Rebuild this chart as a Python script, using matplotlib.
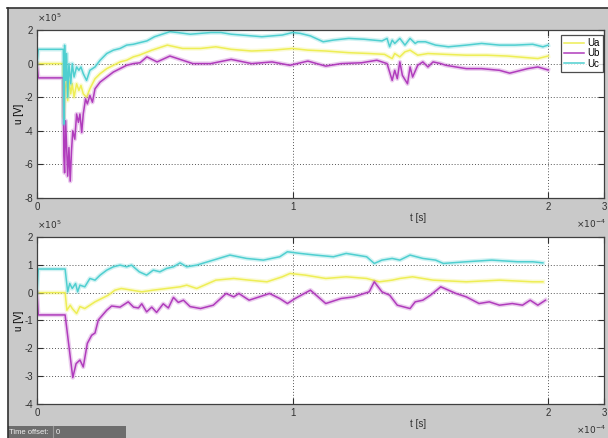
import numpy as np
import matplotlib
matplotlib.use('Agg')
import matplotlib.pyplot as plt
from matplotlib.patches import Rectangle
from matplotlib.lines import Line2D

plt.rcParams['font.family'] = ['Liberation Sans', 'DejaVu Sans']

# time in 1e-4 s, voltage in 1e5 V, (t, u) pairs
ua_top = [(0, 0), (0.005, 0), (0.103, 0), (0.105, -3.2), (0.110, -1.5), (0.116, -1.0), (0.120, -2.2),
          (0.125, -1.0), (0.132, -1.8), (0.138, -1.2), (0.145, -2.0), (0.155, -1.2), (0.164, -1.6),
          (0.172, -1.3), (0.181, -1.8), (0.194, -2.0), (0.207, -1.5), (0.227, -0.9), (0.247, -0.6),
          (0.273, -0.3), (0.299, -0.1), (0.325, 0.1), (0.351, 0.2), (0.377, 0.4), (0.40, 0.5),
          (0.45, 0.8), (0.51, 1.1), (0.57, 0.9), (0.64, 0.9), (0.70, 1.0), (0.76, 0.85), (0.84, 0.75),
          (0.92, 0.8), (1.00, 0.9), (1.06, 0.8), (1.13, 0.75), (1.22, 0.65), (1.30, 0.6), (1.36, 0.55),
          (1.39, 0.3), (1.40, 0.6), (1.42, 0.4), (1.44, 0.7), (1.46, 0.8), (1.49, 0.5), (1.53, 0.6),
          (1.60, 0.55), (1.68, 0.5), (1.76, 0.5), (1.84, 0.45), (1.92, 0.35), (1.96, 0.3), (2.00, 0.45)]

ub_top = [(0, 0), (0.005, -0.85), (0.103, -0.85), (0.105, -5.5), (0.108, -6.5), (0.112, -3.4),
          (0.116, -5.0), (0.120, -6.7), (0.125, -5.0), (0.130, -7.0), (0.135, -5.2), (0.140, -4.0),
          (0.148, -4.5), (0.155, -3.0), (0.162, -3.5), (0.168, -3.0), (0.175, -4.1), (0.181, -3.0),
          (0.190, -2.1), (0.197, -2.4), (0.207, -1.9), (0.217, -2.3), (0.227, -1.5), (0.247, -1.1),
          (0.273, -0.8), (0.299, -0.5), (0.325, -0.3), (0.351, -0.1), (0.377, 0.0), (0.403, 0.05),
          (0.43, 0.4), (0.47, 0.1), (0.52, 0.45), (0.57, 0.2), (0.61, 0.0), (0.68, 0.0), (0.76, 0.25),
          (0.84, 0.0), (0.92, 0.1), (0.99, -0.1), (1.06, 0.15), (1.13, -0.15), (1.19, 0.0), (1.27, 0.05),
          (1.33, 0.2), (1.37, 0.0), (1.39, -1.0), (1.40, -0.4), (1.41, -0.9), (1.42, 0.1), (1.43, -0.7),
          (1.45, -1.2), (1.46, -0.2), (1.47, -0.8), (1.49, -0.1), (1.51, 0.1), (1.53, -0.2), (1.55, 0.1),
          (1.58, 0.0), (1.60, -0.1), (1.64, -0.2), (1.68, -0.3), (1.74, -0.3), (1.81, -0.4),
          (1.85, -0.57), (1.92, -0.3), (1.96, -0.2), (2.00, -0.38)]

uc_top = [(0, 0), (0.005, 0.85), (0.103, 0.85), (0.105, -3.6), (0.108, 1.1), (0.112, -1.0),
          (0.116, 0.6), (0.120, -2.0), (0.125, 0.0), (0.132, -1.2), (0.138, 0.0), (0.145, -0.8),
          (0.155, -0.2), (0.164, -0.4), (0.172, -0.2), (0.181, -0.6), (0.194, -1.0), (0.207, -0.4),
          (0.227, -0.2), (0.247, 0.2), (0.273, 0.6), (0.299, 0.8), (0.325, 0.9), (0.351, 1.1),
          (0.377, 1.15), (0.403, 1.25), (0.43, 1.35), (0.46, 1.6), (0.50, 1.8), (0.52, 1.9),
          (0.55, 1.85), (0.60, 1.75), (0.64, 1.8), (0.68, 1.85), (0.72, 1.85), (0.76, 1.75),
          (0.80, 1.7), (0.84, 1.65), (0.88, 1.6), (0.92, 1.65), (0.96, 1.7), (1.00, 1.85),
          (1.03, 1.8), (1.07, 1.65), (1.12, 1.3), (1.16, 1.4), (1.22, 1.5), (1.28, 1.45),
          (1.35, 1.35), (1.37, 1.5), (1.38, 1.0), (1.39, 1.4), (1.40, 1.2), (1.42, 1.5), (1.44, 1.1),
          (1.46, 1.5), (1.48, 1.2), (1.49, 1.3), (1.52, 1.3), (1.56, 1.1), (1.61, 1.0), (1.68, 1.1),
          (1.74, 1.2), (1.81, 1.1), (1.87, 1.1), (1.94, 1.15), (1.98, 1.0), (2.00, 1.1)]

ua_bot = [(0, 0), (0.005, 0), (0.11, 0), (0.117, -0.63), (0.13, -0.45), (0.138, -0.57), (0.155, -0.75),
          (0.168, -0.5), (0.187, -0.57), (0.207, -0.45), (0.227, -0.33), (0.253, -0.21), (0.279, -0.09),
          (0.305, 0.09), (0.33, 0.15), (0.37, 0.09), (0.41, 0.03), (0.455, 0.09), (0.507, 0.15),
          (0.56, 0.21), (0.586, 0.27), (0.625, 0.15), (0.70, 0.45), (0.77, 0.51), (0.83, 0.45),
          (0.90, 0.39), (0.96, 0.57), (0.99, 0.69), (1.05, 0.63), (1.13, 0.51), (1.21, 0.57),
          (1.29, 0.51), (1.34, 0.39), (1.39, 0.45), (1.42, 0.51), (1.47, 0.57), (1.55, 0.45),
          (1.68, 0.39), (1.81, 0.45), (1.94, 0.39), (1.98, 0.39)]

ub_bot = [(0, 0), (0.005, -0.8), (0.11, -0.8), (0.14, -3.05), (0.153, -2.55), (0.168, -2.42),
          (0.181, -2.67), (0.197, -1.82), (0.214, -1.53), (0.227, -1.45), (0.24, -0.98), (0.273, -0.63),
          (0.292, -0.48), (0.325, -0.52), (0.357, -0.33), (0.378, -0.52), (0.397, -0.55), (0.41, -0.4),
          (0.429, -0.69), (0.449, -0.52), (0.468, -0.71), (0.494, -0.4), (0.514, -0.55), (0.534, -0.17),
          (0.553, -0.35), (0.573, -0.27), (0.599, -0.5), (0.64, -0.57), (0.69, -0.45), (0.74, -0.03),
          (0.77, -0.15), (0.79, -0.03), (0.83, -0.27), (0.87, -0.15), (0.91, -0.03), (0.95, -0.21),
          (0.98, -0.39), (1.01, -0.21), (1.07, 0.09), (1.13, -0.39), (1.19, -0.21), (1.24, -0.15),
          (1.30, 0.03), (1.32, 0.39), (1.35, 0.03), (1.38, -0.09), (1.41, -0.45), (1.46, -0.57),
          (1.48, -0.33), (1.51, -0.27), (1.54, -0.09), (1.58, 0.21), (1.61, 0.09), (1.64, -0.03),
          (1.68, -0.15), (1.73, -0.39), (1.77, -0.33), (1.81, -0.45), (1.86, -0.39), (1.90, -0.45),
          (1.93, -0.27), (1.96, -0.45), (1.99, -0.27)]

uc_bot = [(0, 0), (0.005, 0.85), (0.11, 0.85), (0.12, 0.03), (0.128, 0.33), (0.138, 0.15),
          (0.151, 0.33), (0.159, 0.03), (0.168, 0.27), (0.187, 0.21), (0.207, 0.51), (0.227, 0.45),
          (0.247, 0.63), (0.273, 0.81), (0.299, 0.93), (0.325, 0.99), (0.351, 0.93), (0.37, 0.99),
          (0.40, 0.75), (0.429, 0.63), (0.455, 0.81), (0.481, 0.75), (0.507, 0.87), (0.534, 0.93),
          (0.56, 1.07), (0.586, 0.93), (0.625, 0.99), (0.69, 1.17), (0.755, 1.35), (0.82, 1.23),
          (0.886, 1.17), (0.95, 1.29), (0.98, 1.47), (1.03, 1.41), (1.09, 1.35), (1.16, 1.29),
          (1.21, 1.41), (1.29, 1.29), (1.32, 1.05), (1.35, 1.17), (1.39, 1.23), (1.42, 1.17),
          (1.46, 1.35), (1.51, 1.23), (1.56, 1.17), (1.59, 1.05), (1.68, 1.11), (1.78, 1.17),
          (1.88, 1.11), (1.94, 1.11), (1.98, 1.07)]

names = ['Ua', 'Ub', 'Uc']
colors = ['#eeee55', '#b03cbc', '#4fcfd0']
top_ylim = (-8, 2)
top_yticks = [-8, -6, -4, -2, 0, 2]
bot_ylim = (-4, 2)
bot_yticks = [-4, -3, -2, -1, 0, 1, 2]
x_ticks = [0, 1, 2]
x_end = 2.219   # right edge of the visible window, labelled 3

W, H = 608, 438
fig = plt.figure(figsize=(W / 100, H / 100), dpi=100)
fig.patch.set_facecolor('#c9c9c9')

# window frame: white margin top/left plus a dark edge
fig.patches.append(Rectangle((0, 1 - 7 / H), 1, 7 / H, transform=fig.transFigure, color='white', zorder=0))
fig.patches.append(Rectangle((0, 0), 7 / W, 1, transform=fig.transFigure, color='white', zorder=0))
fig.lines.append(Line2D([7 / W, 1], [1 - 7.5 / H, 1 - 7.5 / H], transform=fig.transFigure, color='#303030', lw=1.2))
fig.lines.append(Line2D([7.5 / W, 7.5 / W], [0, 1 - 7.5 / H], transform=fig.transFigure, color='#303030', lw=1.2))


def px_box(x0, y0, x1, y1):
    return [x0 / W, 1 - y1 / H, (x1 - x0) / W, (y1 - y0) / H]


def setup(ax, ylim, yticks):
    ax.set_facecolor('white')
    ax.set_xlim(0, x_end)
    ax.set_ylim(*ylim)
    ax.set_xticks(x_ticks + [x_end])
    ax.set_xticklabels(['0', '1', '2', '3'])
    ax.set_yticks(yticks)
    ax.set_yticklabels([str(v) for v in yticks])
    ax.tick_params(direction='in', top=True, right=True, length=4, width=0.8, labelsize=7,
                   colors='#303030', pad=3)
    ax.grid(True, linestyle=(0, (1, 2)), color='#555555', lw=0.7)
    for s in ax.spines.values():
        s.set_color('#404040')
        s.set_linewidth(0.9)
    ax.set_ylabel('u [V]', fontsize=7, labelpad=0)


def draw(ax, series):
    handles = []
    for data, c, n in zip(series, colors, names):
        t, u = np.array(data).T
        ax.plot(t, u, color=c, lw=3.2, alpha=0.25, solid_joinstyle='round')
        h, = ax.plot(t, u, color=c, lw=1.1, label=n)
        handles.append(h)
    return handles


ax1 = fig.add_axes(px_box(37, 30, 604, 198))
setup(ax1, top_ylim, top_yticks)
hs = draw(ax1, [ua_top, ub_top, uc_top])

ax2 = fig.add_axes(px_box(37, 237, 604, 404))
setup(ax2, bot_ylim, bot_yticks)
draw(ax2, [ua_bot, ub_bot, uc_bot])

leg = fig.legend(handles=hs, labels=names, loc='upper right', bbox_to_anchor=(603 / W, 1 - 35 / H),
                 fontsize=7, frameon=True, fancybox=False, handlelength=2.0, handletextpad=0.4,
                 borderpad=0.3, labelspacing=0.05, borderaxespad=0)
leg.get_frame().set_edgecolor('#202020')
leg.get_frame().set_linewidth(0.9)

# axis labels and MATLAB-style exponents
for top_px, bot_px in [(30, 198), (237, 404)]:
    fig.text(37 / W, 1 - (top_px - 6) / H, r'$\times 10^{5}$', fontsize=6.5, ha='left', va='bottom',
             color='#303030')
    fig.text(418 / W, 1 - (bot_px + 20) / H, 't [s]', fontsize=7, ha='center', va='center', color='#303030')
    fig.text(606 / W, 1 - (bot_px + 26) / H, r'$\times 10^{-4}$', fontsize=6.5, ha='right', va='center',
             color='#303030')

# status bar at the bottom
fig.patches.append(Rectangle((8 / W, 0), 118 / W, 12 / H, transform=fig.transFigure,
                             facecolor='#6d6d6d', edgecolor='none'))
fig.lines.append(Line2D([53 / W, 53 / W], [0, 12 / H], transform=fig.transFigure, color='#9a9a9a', lw=0.8))
fig.text(9 / W, 6 / H, 'Time offset:', fontsize=5.5, color='#f0f0f0', va='center', ha='left')
fig.text(56 / W, 6 / H, '0', fontsize=5.5, color='#f0f0f0', va='center', ha='left')

fig.savefig('out.png', dpi=100)
